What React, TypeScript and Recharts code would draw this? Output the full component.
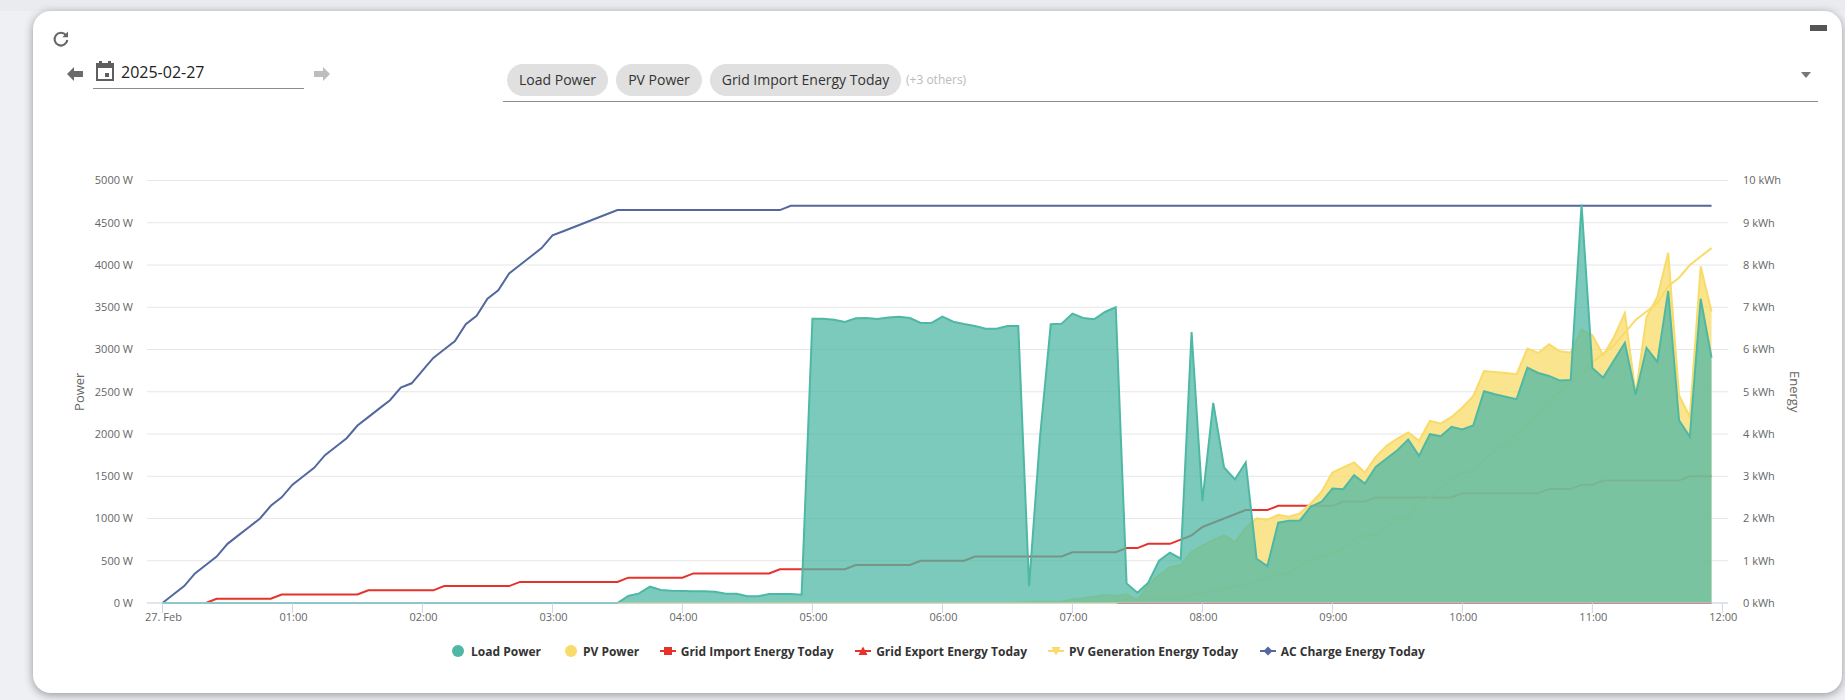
import React from 'react';
import { ComposedChart, Area, Line, XAxis, YAxis, CartesianGrid, Legend } from 'recharts';

const times = [
  0,5,10,15,20,25,30,35,40,45,50,55,
  60,65,70,75,80,85,90,95,100,105,110,115,
  120,125,130,135,140,145,150,155,160,165,170,175,
  180,185,190,195,200,205,210,215,220,225,230,235,
  240,245,250,255,260,265,270,275,280,285,290,295,
  300,305,310,315,320,325,330,335,340,345,350,355,
  360,365,370,375,380,385,390,395,400,405,410,415,
  420,425,430,435,440,445,450,455,460,465,470,475,
  480,485,490,495,500,505,510,515,520,525,530,535,
  540,545,550,555,560,565,570,575,580,585,590,595,
  600,605,610,615,620,625,630,635,640,645,650,655,
  660,665,670,675,680,685,690,695,700,705,710,715,
];

const loadPower = [
  0,0,0,0,0,0,0,0,0,0,0,0,
  0,0,0,0,0,0,0,0,0,0,0,0,
  0,0,0,0,0,0,0,0,0,0,0,0,
  0,0,0,0,0,0,0,83,114,193,154,146,
  142,138,138,134,110,110,79,79,106,106,106,98,
  3365,3365,3353,3325,3369,3373,3361,3380,3388,3373,3314,3314,
  3388,3329,3302,3278,3247,3247,3278,3278,200,1950,3298,3306,
  3424,3373,3357,3444,3499,232,122,240,500,595,524,3207,
  1206,2368,1604,1462,1663,524,437,950,973,977,1139,1198,
  1355,1347,1513,1414,1611,1710,1808,1935,1741,1998,1974,2084,
  2053,2100,2506,2470,2440,2411,2786,2722,2687,2632,2640,4716,
  2782,2667,2872,3077,2466,3018,2853,3692,2163,1966,3601,2904,
];

const pvPower = [
  0,0,0,0,0,0,0,0,0,0,0,0,
  0,0,0,0,0,0,0,0,0,0,0,0,
  0,0,0,0,0,0,0,0,0,0,0,0,
  0,0,0,0,0,0,0,0,0,0,0,0,
  0,0,0,0,0,0,0,0,0,0,0,0,
  0,0,0,0,0,0,0,0,0,0,0,0,
  0,0,0,0,0,0,0,4,8,12,12,16,
  43,55,75,95,83,102,28,213,331,421,449,607,
  680,745,800,720,890,1001,985,1044,1020,1060,1178,1316,
  1544,1604,1663,1544,1730,1860,1946,2017,1919,2155,2124,2202,
  2313,2447,2746,2734,2722,2707,3010,2959,3061,2979,2963,3235,
  3168,2931,3148,3432,2478,3384,3621,4145,2458,2202,3983,3451,
];

const gridImport = [
  0,0,0,0,0,0.1,0.1,0.1,0.1,0.1,0.1,0.2,
  0.2,0.2,0.2,0.2,0.2,0.2,0.2,0.3,0.3,0.3,0.3,0.3,
  0.3,0.3,0.4,0.4,0.4,0.4,0.4,0.4,0.4,0.5,0.5,0.5,
  0.5,0.5,0.5,0.5,0.5,0.5,0.5,0.6,0.6,0.6,0.6,0.6,
  0.6,0.7,0.7,0.7,0.7,0.7,0.7,0.7,0.7,0.8,0.8,0.8,
  0.8,0.8,0.8,0.8,0.9,0.9,0.9,0.9,0.9,0.9,1.0,1.0,
  1.0,1.0,1.0,1.1,1.1,1.1,1.1,1.1,1.1,1.1,1.1,1.1,
  1.2,1.2,1.2,1.2,1.2,1.3,1.3,1.4,1.4,1.4,1.5,1.6,
  1.8,1.9,2.0,2.1,2.2,2.2,2.2,2.3,2.3,2.3,2.3,2.3,
  2.3,2.4,2.4,2.4,2.5,2.5,2.5,2.5,2.5,2.5,2.5,2.5,
  2.6,2.6,2.6,2.6,2.6,2.6,2.6,2.6,2.7,2.7,2.7,2.8,
  2.8,2.9,2.9,2.9,2.9,2.9,2.9,2.9,2.9,3.0,3.0,3.0,
];

const gridExport = [
  0,0,0,0,0,0,0,0,0,0,0,0,
  0,0,0,0,0,0,0,0,0,0,0,0,
  0,0,0,0,0,0,0,0,0,0,0,0,
  0,0,0,0,0,0,0,0,0,0,0,0,
  0,0,0,0,0,0,0,0,0,0,0,0,
  0,0,0,0,0,0,0,0,0,0,0,0,
  0,0,0,0,0,0,0,0,0,0,0,0,
  0,0,0,0,0,0,0,0,0,0,0,0,
  0,0,0,0,0,0,0,0,0,0,0,0,
  0,0,0,0,0,0,0,0,0,0,0,0,
  0,0,0,0,0,0,0,0,0,0,0,0,
  0,0,0,0,0,0,0,0,0,0,0,0,
];

const pvGeneration = [
  0,0,0,0,0,0,0,0,0,0,0,0,
  0,0,0,0,0,0,0,0,0,0,0,0,
  0,0,0,0,0,0,0,0,0,0,0,0,
  0,0,0,0,0,0,0,0,0,0,0,0,
  0,0,0,0,0,0,0,0,0,0,0,0,
  0,0,0,0,0,0,0,0,0,0,0,0,
  0,0,0,0,0,0,0,0,0,0,0,0,
  0,0,0,0,0,0.1,0.1,0.1,0.1,0.1,0.1,0.2,
  0.2,0.3,0.3,0.4,0.4,0.5,0.6,0.7,0.7,0.9,1.0,1.1,
  1.2,1.3,1.5,1.6,1.6,1.8,2.0,2.0,2.4,2.5,2.7,2.9,
  3.1,3.1,3.4,3.6,3.8,4.0,4.2,4.5,4.8,5.0,5.2,5.4,
  5.7,5.9,6.1,6.4,6.7,6.9,7.1,7.5,7.7,8.0,8.2,8.4,
];

const acCharge = [
  0,0.2,0.4,0.7,0.9,1.1,1.4,1.6,1.8,2.0,2.3,2.5,
  2.8,3.0,3.2,3.5,3.7,3.9,4.2,4.4,4.6,4.8,5.1,5.2,
  5.5,5.8,6.0,6.2,6.6,6.8,7.2,7.4,7.8,8.0,8.2,8.4,
  8.7,8.8,8.9,9.0,9.1,9.2,9.3,9.3,9.3,9.3,9.3,9.3,
  9.3,9.3,9.3,9.3,9.3,9.3,9.3,9.3,9.3,9.3,9.4,9.4,
  9.4,9.4,9.4,9.4,9.4,9.4,9.4,9.4,9.4,9.4,9.4,9.4,
  9.4,9.4,9.4,9.4,9.4,9.4,9.4,9.4,9.4,9.4,9.4,9.4,
  9.4,9.4,9.4,9.4,9.4,9.4,9.4,9.4,9.4,9.4,9.4,9.4,
  9.4,9.4,9.4,9.4,9.4,9.4,9.4,9.4,9.4,9.4,9.4,9.4,
  9.4,9.4,9.4,9.4,9.4,9.4,9.4,9.4,9.4,9.4,9.4,9.4,
  9.4,9.4,9.4,9.4,9.4,9.4,9.4,9.4,9.4,9.4,9.4,9.4,
  9.4,9.4,9.4,9.4,9.4,9.4,9.4,9.4,9.4,9.4,9.4,9.4,
];

const xTicks = [0,60,120,180,240,300,360,420,480,540,600,660,720];
const xTickLabels = ['27. Feb','01:00','02:00','03:00','04:00','05:00','06:00','07:00','08:00','09:00','10:00','11:00','12:00'];
const powerTicks = [0,500,1000,1500,2000,2500,3000,3500,4000,4500,5000];
const energyTicks = [0,1,2,3,4,5,6,7,8,9,10];

const chipLabels = ['Load Power','PV Power','Grid Import Energy Today'];
const seriesNames = ['Load Power','PV Power','Grid Import Energy Today','Grid Export Energy Today','PV Generation Energy Today','AC Charge Energy Today'];

const TEAL = '#4FB8A5';
const YELLOW = '#F8DB68';
const RED = '#E5322A';
const BLUE = '#52689E';

const FONT = '"Open Sans", sans-serif';

const data = times.map((t, i) => ({
  t,
  load: loadPower[i],
  pv: pvPower[i],
  imp: gridImport[i],
  exp: gridExport[i],
  gen: pvGeneration[i],
  ac: acCharge[i],
}));

const Marker = ({ kind, color }: { kind: string; color: string }) => {
  if (kind === 'circle') {
    return <svg width={12} height={12}><circle cx={6} cy={6} r={6} fill={color} /></svg>;
  }
  let mark = null;
  if (kind === 'square') mark = <rect x={4} y={2} width={8} height={8} fill={color} />;
  if (kind === 'triangle') mark = <path d="M8 1.5 L12.5 10 L3.5 10 Z" fill={color} />;
  if (kind === 'down') mark = <path d="M3.5 2 L12.5 2 L8 10.5 Z" fill={color} />;
  if (kind === 'diamond') mark = <path d="M8 1.5 L12.5 6 L8 10.5 L3.5 6 Z" fill={color} />;
  return (
    <svg width={16} height={12}>
      <line x1={0} x2={16} y1={6} y2={6} stroke={color} strokeWidth={2} />
      {mark}
    </svg>
  );
};

const legendKinds = ['circle','circle','square','triangle','down','diamond'];
const legendColors = [TEAL, YELLOW, RED, RED, YELLOW, BLUE];
const legendGaps = [24, 20.5, 21.5, 21, 21.5, 0];
const legendIconGaps = [7, 6, 5, 5, 5, 5];

const LegendContent = () => (
  <div style={{ display: 'flex', alignItems: 'center', fontFamily: FONT, fontSize: 12, fontWeight: 700, color: '#333', whiteSpace: 'nowrap', height: 24 }}>
    {seriesNames.map((n, i) => (
      <div key={n} style={{ display: 'flex', alignItems: 'center', marginRight: legendGaps[i] }}>
        <div style={{ display: 'flex', marginRight: legendIconGaps[i] }}>
          <Marker kind={legendKinds[i]} color={legendColors[i]} />
        </div>
        <span>{n}</span>
      </div>
    ))}
  </div>
);

const abs = (left: number, top: number, extra: any = {}) => ({ position: 'absolute', left, top, ...extra }) as React.CSSProperties;

export default function App() {
  const chipPos = [
    { left: 507, width: 101 },
    { left: 616, width: 86 },
    { left: 710, width: 191 },
  ];
  return (
    <div style={{ position: 'absolute', left: 0, top: 0, width: 1845, height: 700, overflow: 'hidden', background: '#EEF0F4', fontFamily: FONT }}>
      <div style={abs(0, 0, { width: 1845, height: 11, background: '#E9EBEF' })} />
      <div style={abs(33, 11, { width: 1809, height: 682, background: '#fff', borderRadius: 18, boxShadow: '0 2px 10px rgba(0,0,0,0.38)' })} />

      <svg style={abs(52, 30)} width={18} height={18} viewBox="0 0 18 18">
        <path d="M14 5.2 A6.4 6.4 0 1 0 15.3 10" fill="none" stroke="#666" strokeWidth={2.1} />
        <path d="M16 1.5 V7.2 H10.3 Z" fill="#666" />
      </svg>
      <svg style={abs(1810, 24)} width={18} height={8}><rect x={0} y={1} width={17} height={6} fill="#555" /></svg>

      <svg style={abs(66, 65)} width={18} height={18}><path d="M1 9 L8 2 V6 H17 V12 H8 V16 Z" fill="#6b6b6b" /></svg>
      <svg style={abs(94, 60)} width={22} height={22} viewBox="0 0 22 22">
        <path d="M5 1 H8 V3 H14 V1 H17 V3 H20 V21 H2 V3 H5 Z M4 8 V19 H18 V8 Z" fill="#5f5f5f" fillRule="evenodd" />
        <rect x={11} y={13} width={4} height={4} fill="#5f5f5f" />
      </svg>
      <div style={abs(121, 60, { fontSize: 16, color: '#222', lineHeight: '24px' })}>2025-02-27</div>
      <div style={abs(93, 88, { width: 211, height: 1, background: '#8c8c8c' })} />
      <svg style={abs(313, 65)} width={18} height={18}><path d="M17 9 L10 2 V6 H1 V12 H10 V16 Z" fill="#bdbdbd" /></svg>

      {chipLabels.map((c, i) => (
        <div key={c} style={abs(chipPos[i].left, 64, { width: chipPos[i].width, height: 32, borderRadius: 16, background: '#E0E0E0', fontSize: 14, color: '#333', lineHeight: '32px', textAlign: 'center', whiteSpace: 'nowrap' })}>{c}</div>
      ))}
      <div style={abs(906, 70, { fontSize: 12, color: '#bbb', lineHeight: '20px' })}>(+3 others)</div>
      <div style={abs(503, 101, { width: 1315, height: 1, background: '#8c8c8c' })} />
      <svg style={abs(1800, 71)} width={12} height={8}><path d="M1 1 H11 L6 7 Z" fill="#777" /></svg>

      <div style={abs(0, 0)}>
        <ComposedChart
          width={1845}
          height={700}
          data={data}
          margin={{ top: 180.5, right: 42, bottom: 37, left: 77 }}
          style={{ background: 'transparent' }}
        >
          <CartesianGrid yAxisId="power" vertical={false} stroke="#E6E6E6" horizontalValues={powerTicks} />
          <XAxis
            dataKey="t"
            type="number"
            domain={[-7.15, 722.6]}
            ticks={xTicks}
            interval={0}
            height={30}
            tickSize={10}
            tickMargin={0}
            stroke="#CCD6EB"
            tickFormatter={(v: number) => xTickLabels[xTicks.indexOf(v)]}
            tick={{ fontFamily: FONT, fontSize: 11, fill: '#666', dx: 1 }}
          />
          <YAxis
            yAxisId="power"
            orientation="left"
            width={70}
            domain={[0, 5000]}
            ticks={powerTicks}
            interval={0}
            axisLine={false}
            tickLine={false}
            tickSize={0}
            tickMargin={14}
            tickFormatter={(v: number) => `${v} W`}
            tick={{ fontFamily: FONT, fontSize: 11, fill: '#666' }}
            label={{ value: 'Power', angle: -90, position: 'insideLeft', offset: 2, style: { fontFamily: FONT, fontSize: 13, fill: '#666', textAnchor: 'middle' } }}
          />
          <YAxis
            yAxisId="energy"
            orientation="right"
            width={75}
            domain={[0, 10]}
            ticks={energyTicks}
            interval={0}
            axisLine={false}
            tickLine={false}
            tickSize={0}
            tickMargin={15}
            tickFormatter={(v: number) => `${v} kWh`}
            tick={{ fontFamily: FONT, fontSize: 11, fill: '#666' }}
            label={{ value: 'Energy', angle: 90, position: 'insideRight', offset: 8, style: { fontFamily: FONT, fontSize: 13, fill: '#666', textAnchor: 'middle' } }}
          />
          <Legend
            content={<LegendContent />}
            verticalAlign="bottom"
            align="left"
            height={30}
            wrapperStyle={{ left: 452, width: 1000, top: 639, bottom: 'auto' }}
          />
          <Line yAxisId="energy" zIndex={10} dataKey="imp" name={seriesNames[2]} stroke={RED} strokeWidth={2} dot={false} activeDot={false} isAnimationActive={false} />
          <Line yAxisId="energy" zIndex={11} dataKey="exp" name={seriesNames[3]} stroke={RED} strokeWidth={2} dot={false} activeDot={false} isAnimationActive={false} />
          <Line yAxisId="energy" zIndex={12} dataKey="gen" name={seriesNames[4]} stroke={YELLOW} strokeWidth={2} dot={false} activeDot={false} isAnimationActive={false} />
          <Line yAxisId="energy" zIndex={13} dataKey="ac" name={seriesNames[5]} stroke={BLUE} strokeWidth={2} dot={false} activeDot={false} isAnimationActive={false} />
          <Area yAxisId="power" zIndex={20} dataKey="pv" name={seriesNames[1]} type="linear" stroke={YELLOW} strokeWidth={2} fill={YELLOW} fillOpacity={0.75} dot={false} activeDot={false} isAnimationActive={false} />
          <Area yAxisId="power" zIndex={21} dataKey="load" name={seriesNames[0]} type="linear" stroke={TEAL} strokeWidth={2} fill={TEAL} fillOpacity={0.75} dot={false} activeDot={false} isAnimationActive={false} />
        </ComposedChart>
      </div>
    </div>
  );
}
